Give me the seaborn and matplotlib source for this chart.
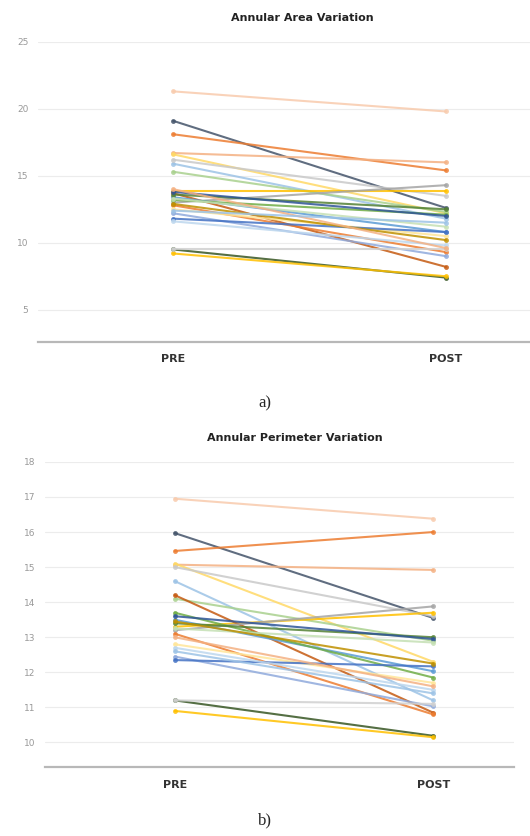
import pandas as pd
import seaborn as sns
import matplotlib.pyplot as plt

sns.set_style("white")

phases = ["PRE", "POST"]

# annular area, one pair per patient (PRE, POST)
area_pre = [21.3, 19.1, 18.1, 16.7, 16.6, 15.9, 15.3, 16.2, 13.9, 13.7, 13.0,
            13.4, 13.2, 12.8, 12.5, 12.2, 11.8, 11.6, 13.6, 9.5, 9.2, 9.5,
            13.8, 13.3, 12.9, 14.0, 12.4]
area_post = [19.8, 12.6, 15.4, 16.0, 12.2, 11.8, 12.3, 13.5, 13.9, 8.2, 14.3,
             10.8, 12.1, 9.3, 10.5, 9.0, 10.8, 9.8, 12.5, 7.4, 7.5, 9.5,
             12.0, 11.2, 10.2, 9.6, 11.5]

# annular perimeter
perim_pre = [16.95, 15.97, 15.46, 15.07, 15.1, 14.6, 14.1, 15.0, 13.3, 14.2, 13.2,
             13.5, 13.7, 13.1, 12.8, 12.45, 12.35, 12.7, 13.4, 11.2, 10.9, 11.2,
             13.6, 13.25, 13.45, 13.0, 12.6]
perim_post = [16.38, 13.55, 16.0, 14.92, 12.3, 11.2, 12.9, 13.6, 13.7, 10.85, 13.88,
              12.03, 11.85, 10.8, 11.7, 11.03, 12.17, 11.5, 13.0, 10.19, 10.15, 11.1,
              12.95, 12.85, 12.25, 11.6, 11.4]

colors = ["#F8CBAD", "#44546A", "#ED7D31", "#F4B183", "#FFD966", "#9DC3E6",
          "#A9D18E", "#C9C9C9", "#FFC000", "#C55A11", "#A5A5A5", "#5B9BD5",
          "#70AD47", "#ED7D31", "#FFE699", "#8FAADC", "#4472C4", "#BDD7EE",
          "#548235", "#375623", "#FFC000", "#D0D0D0",
          "#2F5597", "#C5E0B4", "#BF9000", "#F4B183", "#9DC3E6"]


def long_df(pre, post):
    rows = []
    for i, (a, b) in enumerate(zip(pre, post)):
        rows.append({"id": i, "phase": phases[0], "value": a})
        rows.append({"id": i, "phase": phases[1], "value": b})
    return pd.DataFrame(rows)


def slope(ax, df, ylim, yticks, xlim):
    sns.lineplot(data=df, x="phase", y="value", hue="id", palette=colors,
                 marker="o", markersize=3.5, markeredgewidth=0, linewidth=1.5,
                 alpha=0.85, estimator=None, legend=False, ax=ax)
    ax.set_xlim(*xlim)
    ax.set_ylim(*ylim)
    ax.set_yticks(yticks)
    ax.grid(axis="y", color="#ececec", linewidth=0.8)
    ax.set_axisbelow(True)
    for s in ["top", "right", "left"]:
        ax.spines[s].set_visible(False)
    ax.spines["bottom"].set_color("#b8b8b8")
    ax.spines["bottom"].set_linewidth(1.6)
    ax.tick_params(axis="y", labelsize=6.5, labelcolor="#999999", length=0, pad=7)
    ax.tick_params(axis="x", labelsize=8, labelcolor="#333333", length=0, pad=9)
    for t in ax.get_xticklabels():
        t.set_fontweight("bold")
    ax.set_xlabel("")
    ax.set_ylabel("")


fig = plt.figure(figsize=(5.3, 8.36), dpi=100)

ax1 = fig.add_axes([0.072, 0.591, 0.928, 0.359])
slope(ax1, long_df(area_pre, area_post), (2.6, 25), [5, 10, 15, 20, 25], (-0.495, 1.308))

ax2 = fig.add_axes([0.085, 0.0825, 0.885, 0.365])
slope(ax2, long_df(perim_pre, perim_post), (9.3, 18), list(range(10, 19)), (-0.502, 1.313))

fig.text(302 / 530, 1 - 18 / 836, "Annular Area Variation", ha="center", va="center",
         fontsize=8, fontweight="bold", color="#222222")
fig.text(295 / 530, 1 - 438 / 836, "Annular Perimeter Variation", ha="center", va="center",
         fontsize=8, fontweight="bold", color="#222222")
fig.text(265 / 530, 1 - 403 / 836, "a)", ha="center", va="center",
         fontsize=12, family="Liberation Serif")
fig.text(265 / 530, 1 - 820 / 836, "b)", ha="center", va="center",
         fontsize=12, family="Liberation Serif")

fig.savefig("out.png", dpi=100)
